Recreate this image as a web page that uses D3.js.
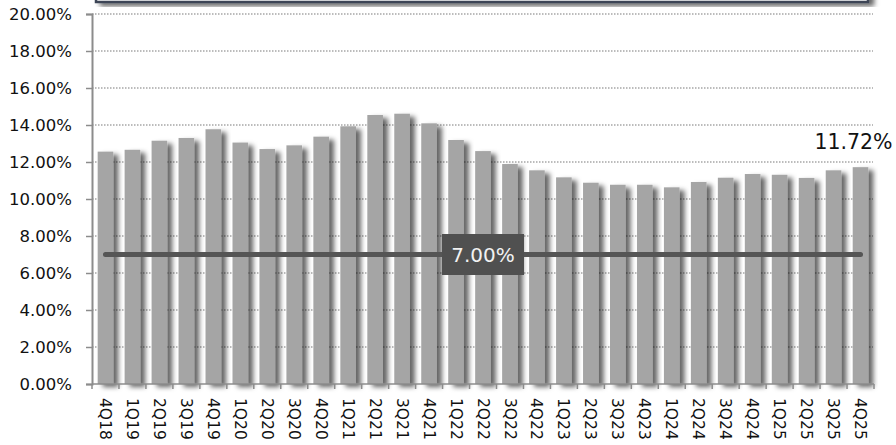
<!DOCTYPE html>
<html>
<head>
<meta charset="utf-8">
<script src="https://cdn.jsdelivr.net/npm/d3@7"></script>
<style>
  body { margin: 0; background: #fff; }
  text { font-family: "DejaVu Sans", sans-serif; }
</style>
</head>
<body>
<script>
// quarters shown on the x axis
var quarters = ["4Q18","1Q19","2Q19","3Q19","4Q19","1Q20","2Q20","3Q20","4Q20",
                "1Q21","2Q21","3Q21","4Q21","1Q22","2Q22","3Q22","4Q22",
                "1Q23","2Q23","3Q23","4Q23","1Q24","2Q24","3Q24","4Q24",
                "1Q25","2Q25","3Q25","4Q25"];

// ratio per quarter (%)
var ratios = [12.56, 12.66, 13.15, 13.30, 13.77, 13.05, 12.70, 12.90, 13.37,
              13.93, 14.54, 14.61, 14.09, 13.19, 12.59, 11.89, 11.55,
              11.17, 10.88, 10.77, 10.77, 10.63, 10.92, 11.15, 11.35,
              11.31, 11.14, 11.55, 11.72];

// minimum requirement line
var minimum = 7.00;

// y tick values
var yTicks = [0, 2, 4, 6, 8, 10, 12, 14, 16, 18, 20];

var data = quarters.map(function(q, i) { return {q: q, v: ratios[i]}; });

// set the dimensions and margins of the graph
var margin = {top: 14, right: 22, bottom: 61, left: 92},
    width = 896 - margin.left - margin.right,
    height = 445 - margin.top - margin.bottom;

var x = d3.scaleBand().domain(quarters).range([0, width]).padding(0);
var y = d3.scaleLinear().domain([0, 20]).range([height, 0]);

var root = d3.select("body").append("svg")
    .attr("width", 896)
    .attr("height", 445);

var defs = root.append("defs");
defs.append("filter")
    .attr("id", "shadow")
    .attr("x", "-20%").attr("y", "-10%")
    .attr("width", "180%").attr("height", "130%")
  .append("feDropShadow")
    .attr("dx", 5).attr("dy", 3)
    .attr("stdDeviation", 2.8)
    .attr("flood-color", "#000")
    .attr("flood-opacity", 0.6);

// cut-off title box at the very top
root.append("rect")
    .attr("x", 96).attr("y", -20)
    .attr("width", 772).attr("height", 22)
    .attr("fill", "#fff")
    .attr("stroke", "#3d4556")
    .attr("stroke-width", 2.5)
    .attr("filter", "url(#shadow)");

var svg = root.append("g")
    .attr("transform", "translate(" + margin.left + "," + margin.top + ")");

// dotted gridlines
svg.append("g")
  .selectAll("line")
  .data(yTicks.filter(function(t) { return t > 0; }))
  .enter().append("line")
    .attr("x1", 0)
    .attr("x2", width - 1)
    .attr("y1", function(d) { return y(d); })
    .attr("y2", function(d) { return y(d); })
    .attr("stroke", "#a6a6a6")
    .attr("stroke-width", 1.3)
    .attr("stroke-dasharray", "1.5,1.5");

// bars
var barW = x.bandwidth() * 0.58;
svg.append("g")
  .selectAll("rect")
  .data(data)
  .enter().append("rect")
    .attr("x", function(d) { return x(d.q) + (x.bandwidth() - barW) / 2; })
    .attr("y", function(d) { return y(d.v); })
    .attr("width", barW)
    .attr("height", function(d) { return height - y(d.v); })
    .attr("fill", "#a5a5a5")
    .attr("filter", "url(#shadow)");

// y axis
var yAxis = svg.append("g")
    .call(d3.axisLeft(y).tickValues(yTicks).tickSize(6).tickPadding(14)
      .tickFormat(function(d) { return d3.format(".2f")(d) + "%"; }));
yAxis.select(".domain").attr("stroke", "#8c8c8c").attr("stroke-width", 2);
yAxis.selectAll(".tick line").attr("stroke", "#8c8c8c").attr("stroke-width", 1.5);
yAxis.selectAll(".tick text")
    .style("font-family", "DejaVu Sans")
    .style("font-size", "16.5px")
    .attr("fill", "#111");

// x axis, ticks sit on the band edges
var xAxis = svg.append("g")
    .attr("transform", "translate(0," + height + ")");
xAxis.append("line")
    .attr("x1", 0).attr("x2", width)
    .attr("stroke", "#8c8c8c").attr("stroke-width", 1.5);
xAxis.selectAll(".edge")
    .data(quarters.concat(["end"]))
  .enter().append("line")
    .attr("class", "edge")
    .attr("x1", function(d, i) { return i * x.step(); })
    .attr("x2", function(d, i) { return i * x.step(); })
    .attr("y1", 0).attr("y2", 5)
    .attr("stroke", "#8c8c8c").attr("stroke-width", 1.5);
xAxis.selectAll(".lbl")
    .data(quarters)
  .enter().append("text")
    .attr("class", "lbl")
    .attr("transform", function(d) {
      return "translate(" + (x(d) + x.bandwidth() / 2) + ",14) rotate(90)";
    })
    .attr("dy", "0.35em")
    .style("font-size", "15.5px")
    .attr("fill", "#111")
    .text(function(d) { return d; });

// minimum line
var x0 = x(quarters[0]) + x.bandwidth() / 2,
    x1 = x(quarters[quarters.length - 1]) + x.bandwidth() / 2;
svg.append("line")
    .attr("x1", x0).attr("x2", x1)
    .attr("y1", y(minimum)).attr("y2", y(minimum))
    .attr("stroke", "#555555")
    .attr("stroke-width", 5)
    .attr("stroke-linecap", "round");

var mid = (x0 + x1) / 2;
svg.append("rect")
    .attr("x", mid - 41).attr("y", y(minimum) - 20.5)
    .attr("width", 82).attr("height", 41)
    .attr("fill", "#505050");
svg.append("text")
    .attr("x", mid).attr("y", y(minimum))
    .attr("dy", "0.36em")
    .style("text-anchor", "middle")
    .style("font-size", "20px")
    .attr("fill", "#f2f2f2")
    .text(d3.format(".2f")(minimum) + "%");

// label for the latest quarter
var last = data[data.length - 1];
svg.append("text")
    .attr("x", x(last.q) + x.bandwidth() / 2 - 7)
    .attr("y", y(last.v) - 18)
    .style("text-anchor", "middle")
    .style("font-size", "20.5px")
    .attr("fill", "#111")
    .text(d3.format(".2f")(last.v) + "%");
</script>
</body>
</html>
